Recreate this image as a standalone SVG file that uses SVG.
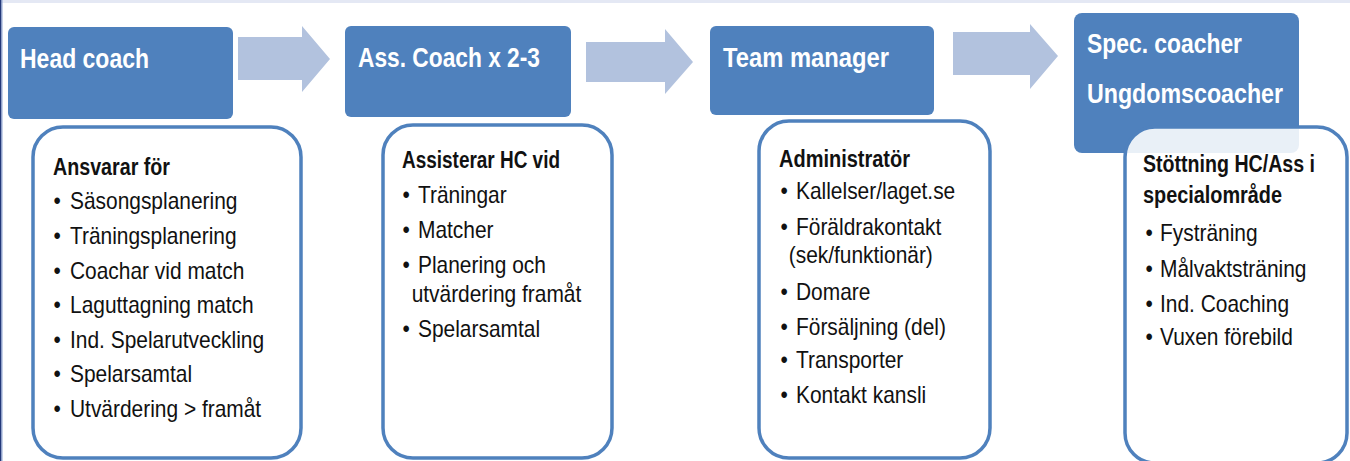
<svg xmlns="http://www.w3.org/2000/svg" width="1350" height="461" viewBox="0 0 1350 461">
  <style>
    .hdr { fill: #4f81bd; }
    .card { fill: #ffffff; stroke: #4f81bd; stroke-width: 3.5; }
    .arrow { fill: #b2c2de; }
    .htxt { font-family: "Liberation Sans", Arial, sans-serif; font-weight: bold; font-size: 28px; fill: #ffffff; }
    .btxt { font-family: "Liberation Sans", Arial, sans-serif; font-size: 23px; fill: #111111; }
    .bold { font-family: "Liberation Sans", Arial, sans-serif; font-size: 23px; font-weight: bold; fill: #111111; }
    .dot { text-anchor: middle; }
  </style>

  <!-- page background and frame edges -->
  <rect x="0" y="0" width="1350" height="461" fill="#ffffff"/>
  <rect x="0" y="0" width="1350" height="3" fill="#e4e8f4"/>
  <rect x="0" y="0" width="1.5" height="461" fill="#24397a"/>
  <rect x="1.5" y="0" width="1" height="461" fill="#8fa6d3"/>

  <!-- connectors: block arrows between roles -->
  <g id="connectors">
    <polygon class="arrow" points="238,37 302,37 302,26 330,59 302,92 302,80 238,80"/>
    <polygon class="arrow" points="586,42 665,42 665,29 693,62 665,94 665,82 586,82"/>
    <polygon class="arrow" points="953,32 1030,32 1030,24 1058,56 1030,89 1030,75 953,75"/>
  </g>

  <!-- Head coach -->
  <g id="head-coach">
    <rect class="hdr" x="8" y="27" width="225" height="92" rx="6"/>
    <text class="htxt" x="20" y="68" textLength="129" lengthAdjust="spacingAndGlyphs">Head coach</text>
    <rect class="card" x="33" y="127" width="268" height="331" rx="30"/>
    <text class="bold" x="53" y="175" textLength="117" lengthAdjust="spacingAndGlyphs">Ansvarar för</text>
    <g class="btxt" transform="translate(70 0) scale(0.91 1) translate(-70 0)">
      <text class="dot" x="56" y="209">•</text><text x="70" y="209">Säsongsplanering</text>
      <text class="dot" x="56" y="244">•</text><text x="70" y="244">Träningsplanering</text>
      <text class="dot" x="56" y="279">•</text><text x="70" y="279">Coachar vid match</text>
      <text class="dot" x="56" y="313">•</text><text x="70" y="313">Laguttagning match</text>
      <text class="dot" x="56" y="348">•</text><text x="70" y="348">Ind. Spelarutveckling</text>
      <text class="dot" x="56" y="382">•</text><text x="70" y="382">Spelarsamtal</text>
      <text class="dot" x="56" y="417">•</text><text x="70" y="417">Utvärdering &gt; framåt</text>
    </g>
  </g>

  <!-- Assistant coaches -->
  <g id="ass-coach">
    <rect class="hdr" x="345" y="26" width="226" height="91" rx="6"/>
    <text class="htxt" x="358" y="67" textLength="182" lengthAdjust="spacingAndGlyphs">Ass. Coach x 2-3</text>
    <rect class="card" x="383" y="125" width="229" height="333" rx="30"/>
    <text class="bold" x="402" y="168" textLength="158" lengthAdjust="spacingAndGlyphs">Assisterar HC vid</text>
    <g class="btxt" transform="translate(418 0) scale(0.91 1) translate(-418 0)">
      <text class="dot" x="405" y="203">•</text><text x="418" y="203">Träningar</text>
      <text class="dot" x="405" y="238">•</text><text x="418" y="238">Matcher</text>
      <text class="dot" x="405" y="273">•</text><text x="418" y="273">Planering och</text>
      <text x="411" y="302">utvärdering framåt</text>
      <text class="dot" x="405" y="337">•</text><text x="418" y="337">Spelarsamtal</text>
    </g>
  </g>

  <!-- Team manager -->
  <g id="team-manager">
    <rect class="hdr" x="710" y="26" width="224" height="89" rx="6"/>
    <text class="htxt" x="723" y="67" textLength="166" lengthAdjust="spacingAndGlyphs">Team manager</text>
    <rect class="card" x="759" y="121" width="231" height="337" rx="30"/>
    <text class="bold" x="779" y="167" textLength="131" lengthAdjust="spacingAndGlyphs">Administratör</text>
    <g class="btxt" transform="translate(796 0) scale(0.91 1) translate(-796 0)">
      <text class="dot" x="783" y="199">•</text><text x="796" y="199">Kallelser/laget.se</text>
      <text class="dot" x="783" y="235">•</text><text x="796" y="235">Föräldrakontakt</text>
      <text x="788" y="263">(sek/funktionär)</text>
      <text class="dot" x="783" y="300">•</text><text x="796" y="300">Domare</text>
      <text class="dot" x="783" y="335">•</text><text x="796" y="335">Försäljning (del)</text>
      <text class="dot" x="783" y="368">•</text><text x="796" y="368">Transporter</text>
      <text class="dot" x="783" y="403">•</text><text x="796" y="403">Kontakt kansli</text>
    </g>
  </g>

  <!-- Specialist / youth coaches -->
  <g id="spec-coacher">
    <rect class="hdr" x="1074" y="13" width="225" height="140" rx="8"/>
    <text class="htxt" x="1087" y="53" textLength="155" lengthAdjust="spacingAndGlyphs">Spec. coacher</text>
    <text class="htxt" x="1087" y="103" textLength="196" lengthAdjust="spacingAndGlyphs">Ungdomscoacher</text>
    <rect class="card" x="1125" y="127" width="222" height="336" rx="30" fill-opacity="0.88"/>
    <text class="bold" x="1143" y="172" textLength="172" lengthAdjust="spacingAndGlyphs">Stöttning HC/Ass i</text>
    <text class="bold" x="1143" y="203" textLength="139" lengthAdjust="spacingAndGlyphs">specialområde</text>
    <g class="btxt" transform="translate(1160 0) scale(0.91 1) translate(-1160 0)">
      <text class="dot" x="1148" y="241">•</text><text x="1160" y="241">Fysträning</text>
      <text class="dot" x="1148" y="277">•</text><text x="1160" y="277">Målvaktsträning</text>
      <text class="dot" x="1148" y="312">•</text><text x="1160" y="312">Ind. Coaching</text>
      <text class="dot" x="1148" y="345">•</text><text x="1160" y="345">Vuxen förebild</text>
    </g>
  </g>
</svg>
